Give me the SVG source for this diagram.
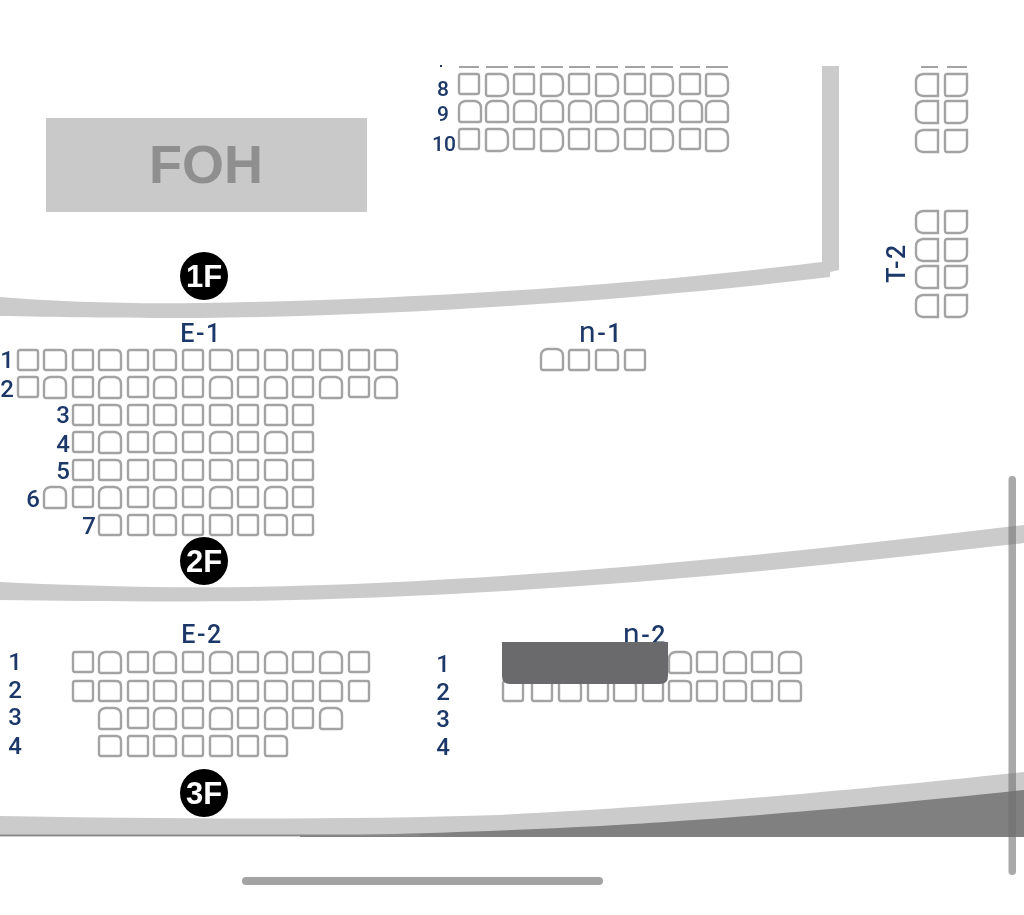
<svg xmlns="http://www.w3.org/2000/svg" width="1024" height="915" viewBox="0 0 1024 915">
<defs>
<style>
.s{fill:none;stroke:#a3a3a3;stroke-width:2.400}
.band{fill:#cbcbcb}
.l{font-family:Roboto,"Liberation Sans",sans-serif;font-size:24px;font-weight:500;fill:#1c3768;text-anchor:middle}
.c{font-size:21px}
.h{letter-spacing:1.500px;font-size:25px}
.m{font-size:30px;font-weight:400}
.b{font-family:"Liberation Sans","DejaVu Sans",sans-serif;font-size:31px;font-weight:700;fill:#fff;text-anchor:middle}
</style>
<filter id="soft" x="-2%" y="-2%" width="104%" height="104%"><feGaussianBlur stdDeviation="0.75"/></filter>
<path id="n" class="s" d="M2 0H18Q20 0 20 2V18Q20 20 18 20H2Q0 20 0 18V2Q0 0 2 0Z"/>
<path id="w" class="s" d="M2 0H17Q22 0 22 5V18Q22 20 20 20H2Q0 20 0 18V2Q0 0 2 0Z"/>
<path id="a" class="s" d="M6 0H16Q22 1 22 7V19Q22 21 20 21H2Q0 21 0 19V7Q0 1 6 0Z"/>
<path id="d" class="s" d="M2 0H15Q22 1 22 8V15Q22 21 15 22H2Q0 22 0 20V2Q0 0 2 0Z"/>
<path id="t" class="s" d="M7 0H22V22H7Q0 21 0 15V7Q0 1 7 0Z"/>
<path id="u" class="s" d="M2 0H22V15Q22 21 15 22H2Q0 22 0 20V2Q0 0 2 0Z"/>
<g id="tworow"><use href="#n"/><use href="#w" x="26"/><use href="#n" x="55"/><use href="#w" x="81"/><use href="#n" x="110"/><use href="#w" x="137"/><use href="#n" x="165"/><use href="#w" x="192"/><use href="#n" x="220"/></g>
<g id="arow"><use href="#n"/><use href="#a" x="26"/><use href="#n" x="55"/><use href="#a" x="81"/><use href="#n" x="110"/><use href="#a" x="137"/><use href="#n" x="165"/><use href="#a" x="192"/><use href="#n" x="220"/></g>
<g id="top"><use href="#n"/><use href="#d" x="27"/><use href="#n" x="55"/><use href="#d" x="82"/><use href="#n" x="110"/><use href="#d" x="137"/><use href="#n" x="166"/><use href="#d" x="192"/><use href="#n" x="221"/><use href="#d" x="247"/></g>
<g id="toparch"><use href="#a"/><use href="#a" x="27"/><use href="#a" x="55"/><use href="#a" x="82"/><use href="#a" x="110"/><use href="#a" x="137"/><use href="#a" x="166"/><use href="#a" x="192"/><use href="#a" x="221"/><use href="#a" x="247"/></g>
</defs>
<rect width="1024" height="915" fill="#fff"/>
<g id="stage" filter="url(#soft)">
<g id="bands">
<path class="band" d="M822 66H839V270L830 272V277C640 300 400 316 200 318C120 318 50 317 0 316V297C60 302 130 304 200 303C400 300 620 287 822 262Z"/>
<path class="band" d="M0 582C80 586 160 588 250 587C500 582 760 557 1024 525V543C760 574 500 597 250 601C160 602 80 601 0 600Z"/>
<path class="band" d="M0 816C160 819 350 820 500 815C640 808 800 796 1024 772V837H0Z"/>
<path fill="#808080" d="M300 836C420 834 520 830 600 826C680 821 800 814 1024 790V837H300Z"/>
<rect y="834.500" width="420" height="1.500" fill="#8a8a8a"/>
</g>
<g id="foh"><rect x="46" y="118" width="321" height="94" fill="#c9c9c9"/><text x="206" y="183" font-family="Liberation Sans, DejaVu Sans, sans-serif" font-size="54" font-weight="700" fill="#8f8f8f" text-anchor="middle">FOH</text></g>
<g id="floor-1f"><circle cx="204" cy="276" r="24" fill="#000"/><text class="b" x="204" y="287">1F</text></g>
<g id="floor-2f"><circle cx="204" cy="561" r="24" fill="#000"/><text class="b" x="204" y="572">2F</text></g>
<g id="floor-3f"><circle cx="204" cy="793" r="24" fill="#000"/><text class="b" x="204" y="804">3F</text></g>
<g id="block-c">
<path d="M459 67H479M486 67H508M514 67H535M541 67H563M569 67H590M596 67H618M625 67H645M651 67H673M680 67H700M706 67H728" stroke="#a3a3a3" stroke-width="2"/>
<use href="#top" x="459" y="74"/><use href="#toparch" x="459" y="101"/><use href="#top" x="459" y="129"/>
<text class="l c" x="443" y="96">8</text><text class="l c" x="443" y="121">9</text><text class="l c" x="444" y="151">10</text>
<rect x="440" y="65" width="2" height="2" fill="#1c3768"/>
</g>
<g id="block-t2">
<path d="M921 67H938M947 67H967" stroke="#a3a3a3" stroke-width="2"/>
<use href="#t" x="916" y="74"/><use href="#u" x="945" y="74"/>
<use href="#t" x="916" y="101"/><use href="#u" x="945" y="101"/>
<use href="#t" x="916" y="130"/><use href="#u" x="945" y="130"/>
<use href="#t" x="916" y="211"/><use href="#u" x="945" y="211"/>
<use href="#t" x="916" y="239"/><use href="#u" x="945" y="239"/>
<use href="#t" x="916" y="266"/><use href="#u" x="945" y="266"/>
<use href="#t" x="916" y="295"/><use href="#u" x="945" y="295"/>
<text class="l h" transform="translate(905 263) rotate(-90)">T-2</text>
</g>
<g id="block-e1">
<text class="l h" x="201" y="342">E-1</text>
<use href="#n" x="18" y="350"/><use href="#w" x="44" y="350"/><use href="#tworow" x="73" y="350"/><use href="#w" x="320" y="350"/><use href="#n" x="349" y="350"/><use href="#w" x="375" y="350"/>
<use href="#n" x="18" y="377"/><use href="#a" x="44" y="377"/><use href="#arow" x="73" y="377"/><use href="#a" x="320" y="377"/><use href="#n" x="349" y="377"/><use href="#a" x="375" y="377"/>
<use href="#tworow" x="73" y="405"/>
<use href="#arow" x="73" y="432"/>
<use href="#tworow" x="73" y="460"/>
<use href="#a" x="44" y="487"/><use href="#arow" x="73" y="487"/>
<use href="#w" x="99" y="515"/><use href="#n" x="128" y="515"/><use href="#w" x="154" y="515"/><use href="#n" x="183" y="515"/><use href="#w" x="210" y="515"/><use href="#n" x="238" y="515"/><use href="#w" x="265" y="515"/><use href="#n" x="293" y="515"/>
<text class="l" x="7" y="368">1</text><text class="l" x="7" y="397">2</text><text class="l" x="63" y="423">3</text><text class="l" x="63" y="452">4</text><text class="l" x="63" y="479">5</text><text class="l" x="33" y="507">6</text><text class="l" x="89" y="534">7</text>
</g>
<g id="block-n1">
<text class="l h" x="601" y="342"><tspan class="m">n</tspan>-1</text>
<use href="#a" x="541" y="349"/><use href="#n" x="569" y="350"/><use href="#w" x="596" y="350"/><use href="#n" x="625" y="350"/>
</g>
<g id="block-e2">
<text class="l h" x="202" y="643">E-2</text>
<use href="#arow" x="73" y="652"/><use href="#a" x="320" y="652"/><use href="#n" x="349" y="652"/>
<use href="#tworow" x="73" y="681"/><use href="#w" x="320" y="681"/><use href="#n" x="349" y="681"/>
<use href="#a" x="99" y="708"/><use href="#n" x="128" y="708"/><use href="#a" x="154" y="708"/><use href="#n" x="183" y="708"/><use href="#a" x="210" y="708"/><use href="#n" x="238" y="708"/><use href="#a" x="265" y="708"/><use href="#n" x="293" y="708"/><use href="#a" x="320" y="708"/>
<use href="#w" x="99" y="736"/><use href="#n" x="128" y="736"/><use href="#w" x="154" y="736"/><use href="#n" x="183" y="736"/><use href="#w" x="210" y="736"/><use href="#n" x="238" y="736"/><use href="#w" x="265" y="736"/>
<text class="l" x="15" y="670">1</text><text class="l" x="15" y="698">2</text><text class="l" x="15" y="725">3</text><text class="l" x="15" y="754">4</text>
</g>
<g id="block-d2">
<text class="l h" x="645" y="644"><tspan class="m">n</tspan>-2</text>
<use href="#a" x="669" y="652"/><use href="#n" x="697" y="652"/><use href="#a" x="724" y="652"/><use href="#n" x="752" y="652"/><use href="#a" x="779" y="652"/>
<use href="#n" x="503" y="681"/><use href="#n" x="532" y="681"/><use href="#w" x="559" y="681"/><use href="#n" x="588" y="681"/><use href="#w" x="614" y="681"/><use href="#n" x="643" y="681"/><use href="#w" x="669" y="681"/><use href="#n" x="697" y="681"/><use href="#w" x="724" y="681"/><use href="#n" x="752" y="681"/><use href="#w" x="779" y="681"/>
<text class="l" x="443" y="672">1</text><text class="l" x="443" y="700">2</text><text class="l" x="443" y="727">3</text><text class="l" x="443" y="755">4</text>
<path id="cover" fill="#6b6b6d" d="M502 642H668V676Q668 684 660 684H510Q502 684 502 676Z"/>
</g>
</g>
<g id="chrome">
<rect id="scrollbar" x="1008.500" y="476" width="7.500" height="399" rx="3.700" fill="#6f6f6f" fill-opacity="0.6"/>
<rect id="home-indicator" x="242" y="877" width="361" height="8" rx="4" fill="#a3a3a3"/>
</g>
</svg>
